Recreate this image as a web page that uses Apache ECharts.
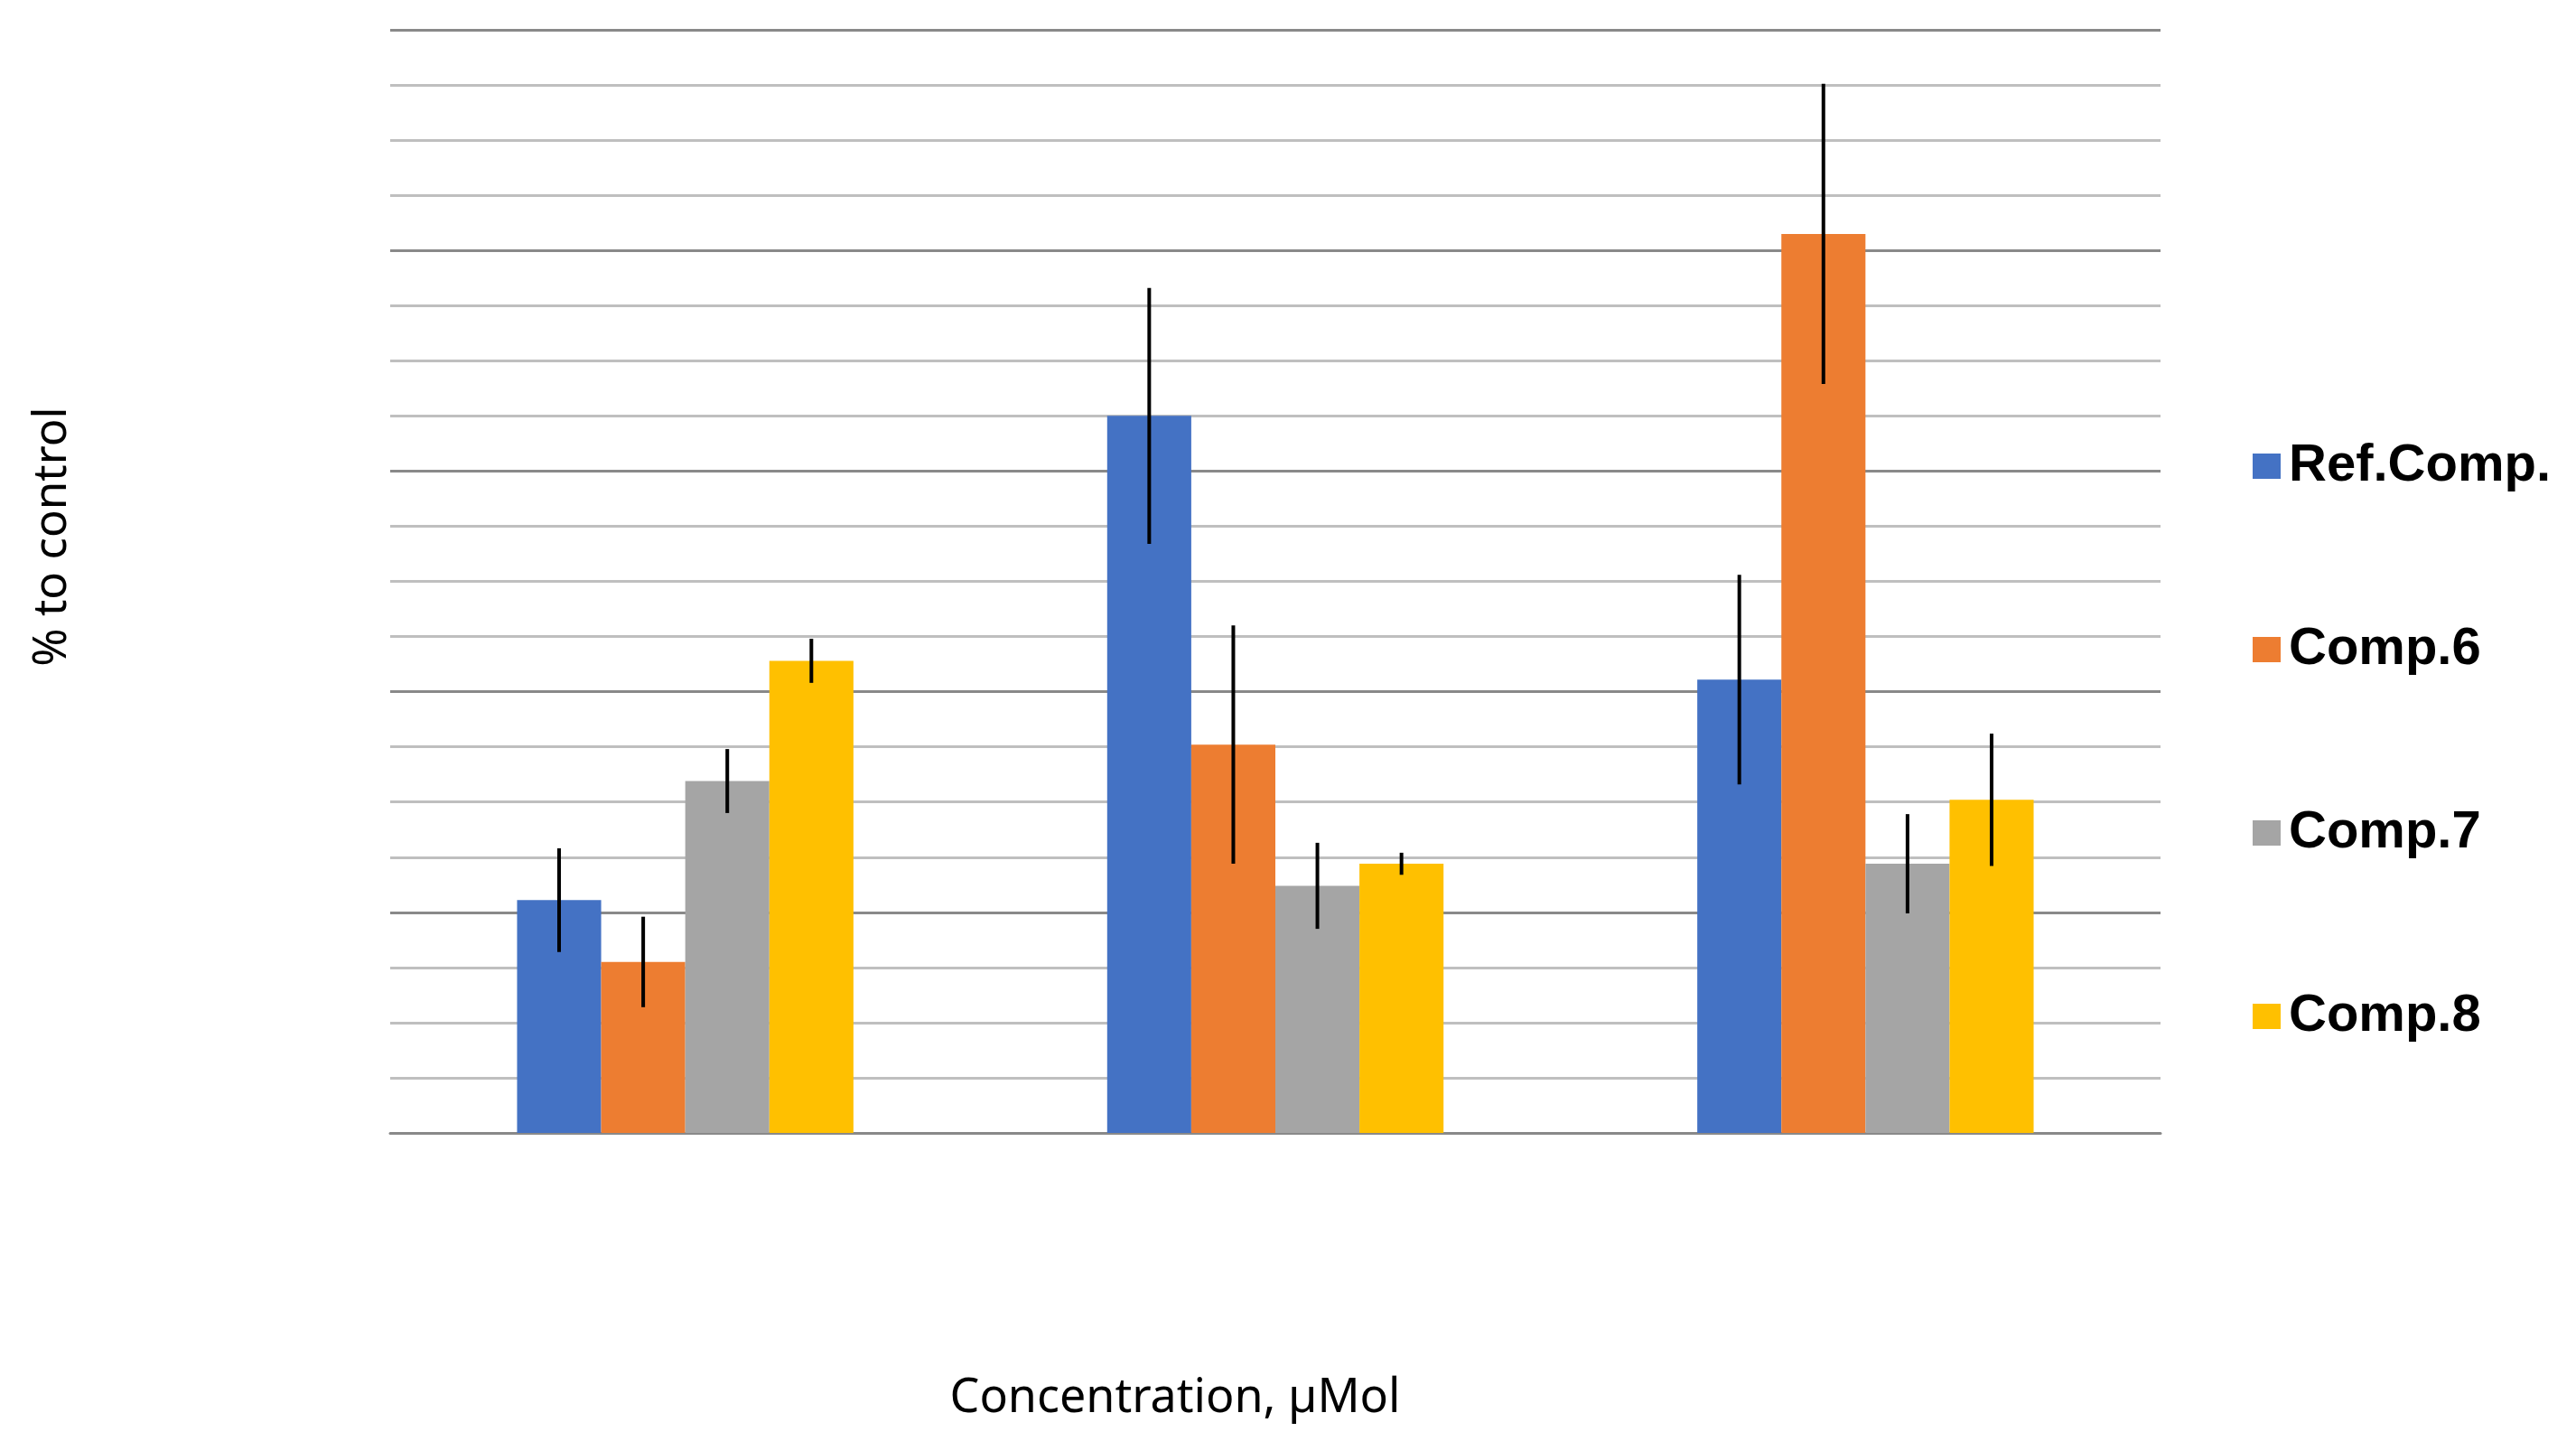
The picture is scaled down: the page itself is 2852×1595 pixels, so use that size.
<!DOCTYPE html>
<html>
<head>
<meta charset="utf-8">
<style>
  html, body { margin: 0; padding: 0; background: #ffffff; }
  #chart { width: 2852px; height: 1595px; }
</style>
<script src="https://cdn.jsdelivr.net/npm/echarts@6/dist/echarts.min.js"></script>
</head>
<body>
<div id="chart"></div>
<script>
// ---- data ----
const categories = ['1', '2', '3'];
const seriesNames = ['Ref.Comp.', 'Comp.6', 'Comp.7', 'Comp.8'];
const refComp = [21.1, 65.0, 41.1];
const comp6   = [15.5, 35.2, 81.5];
const comp7   = [31.9, 22.4, 24.4];
const comp8   = [42.8, 24.4, 30.2];
const refCompErr = [4.7, 11.6, 9.5];
const comp6Err   = [4.1, 10.8, 13.6];
const comp7Err   = [2.9, 3.9, 4.5];
const comp8Err   = [2.0, 1.0, 6.0];
const yTickValues = [0, 100, 5];  // min, max, interval (labels hidden)
const xTitle = 'Concentration, µMol';
const yTitle = '% to control';

const colors = ['#4472C4', '#ED7D31', '#A5A5A5', '#FFC000'];
const values = [refComp, comp6, comp7, comp8];
const errs = [refCompErr, comp6Err, comp7Err, comp8Err];
const catGap = 0.43;

const errData = [];
values.forEach((arr, si) => {
  arr.forEach((v, ci) => errData.push([ci, si, v, errs[si][ci]]));
});

const chart = echarts.init(document.getElementById('chart'), null, { renderer: 'canvas' });

const barSeries = seriesNames.map((name, i) => ({
  name: name,
  type: 'bar',
  data: values[i],
  barGap: '0%',
  barCategoryGap: (catGap * 100) + '%',
  itemStyle: { color: colors[i] },
  emphasis: { disabled: true },
  z: 2
}));

const errSeries = {
  type: 'custom',
  name: 'err',
  data: errData,
  z: 5,
  silent: true,
  renderItem: function (params, api) {
    const ci = api.value(0);
    const si = api.value(1);
    const v = api.value(2);
    const e = api.value(3);
    const bandW = api.size([1, 0])[0];
    const barW = bandW * (1 - catGap) / 4;
    const off = (si - 1.5) * barW;
    const top = api.coord([ci, v + e]);
    const bot = api.coord([ci, v - e]);
    return {
      type: 'line',
      shape: { x1: top[0] + off, y1: top[1], x2: bot[0] + off, y2: bot[1] },
      style: { stroke: '#000000', lineWidth: 4 }
    };
  }
};

const option = {
  backgroundColor: '#ffffff',
  animation: false,
  grid: { left: 432, right: 460, top: 33, bottom: 341, containLabel: false },
  xAxis: {
    type: 'category',
    data: categories,
    axisLine: { show: true, lineStyle: { color: '#898989', width: 3 } },
    axisTick: { show: false },
    axisLabel: { show: false },
    splitLine: { show: false }
  },
  yAxis: {
    type: 'value',
    min: yTickValues[0],
    max: yTickValues[1],
    interval: yTickValues[2],
    axisLine: { show: false },
    axisTick: { show: false },
    axisLabel: { show: false },
    splitLine: {
      show: true,
      lineStyle: { color: ['#898989', '#BFBFBF', '#BFBFBF', '#BFBFBF'], width: 3 }
    }
  },
  legend: {
    orient: 'vertical',
    left: 2489,
    top: 482,
    data: seriesNames,
    icon: 'rect',
    itemWidth: 31,
    itemHeight: 28,
    itemGap: 145,
    selectedMode: false,
    textStyle: {
      fontFamily: 'Liberation Sans',
      fontWeight: 'bold',
      fontSize: 58,
      color: '#000000',
      padding: [0, 0, 0, 4]
    }
  },
  graphic: [
    {
      type: 'text',
      x: 1301,
      y: 1548,
      style: {
        text: xTitle,
        font: '52px "Noto Sans"',
        fill: '#000000',
        align: 'center',
        verticalAlign: 'middle'
      }
    },
    {
      type: 'text',
      x: 58,
      y: 594,
      rotation: Math.PI / 2,
      style: {
        text: yTitle,
        font: '51px "Noto Sans"',
        fill: '#000000',
        align: 'center',
        verticalAlign: 'middle'
      }
    }
  ],
  series: barSeries.concat([errSeries])
};

chart.setOption(option);
</script>
</body>
</html>
